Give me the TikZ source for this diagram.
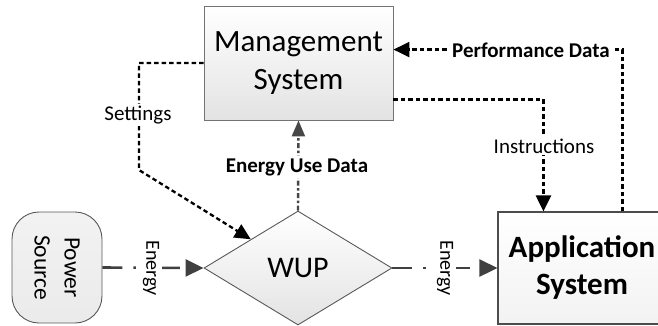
\documentclass[tikz,border=0pt]{standalone}
\usepackage{fontspec}
\setmainfont{Carlito}
\usetikzlibrary{shapes.geometric,arrows.meta,calc}

\tikzset{
  blockbox/.style={draw=black!55, line width=0.9pt, top color=white, bottom color=black!11,
    align=center, inner sep=0pt},
  lbl/.style={fill=white, inner sep=2pt, font=\fontsize{21}{25}\selectfont},
  blbl/.style={lbl, font=\fontsize{21}{25}\selectfont\bfseries},
  ctrl/.style={line width=2.3pt, dash pattern=on 4.5pt off 3pt,
    -{Triangle[length=16pt,width=15pt]}},
  energyflow/.style={draw=black!75, line width=2.6pt,
    dash pattern=on 20pt off 11pt on 2.5pt off 10.5pt on 2.5pt off 11pt,
    -{Triangle[length=18pt,width=17pt,fill=black!75]}},
  usedata/.style={draw=black!72, line width=2.4pt,
    dash pattern=on 5pt off 2.5pt on 2.5pt off 2.5pt,
    -{Triangle[length=16pt,width=13pt,fill=black!72]}},
}

\begin{document}
\begin{tikzpicture}[x=1pt,y=-1pt]
\useasboundingbox (0,0) rectangle (658,325);
\clip (0,0) rectangle (658,325);

% blocks
\node[blockbox, minimum width=189pt, minimum height=114pt,
      font=\fontsize{31}{38}\selectfont] (mgmt) at (298.5,63) {Management\\System};
\node[blockbox, shape=diamond, minimum width=188pt, minimum height=114pt,
      draw=black!65, font=\fontsize{30}{36}\selectfont] (wup) at (298,268) {WUP};
\node[blockbox, rounded corners=27pt, minimum width=90pt, minimum height=111pt,
      top color=black!5, bottom color=black!8, draw=black!65,
      font=\fontsize{23.5}{30}\selectfont] (src) at (57,267.5) {};
\node[rotate=-90, align=center, font=\fontsize{23.5}{30}\selectfont] (srctext)
      at (src.center) {Power\\Source};
\node[blockbox, minimum width=168pt, minimum height=112pt, draw=black!70,
      top color=white, bottom color=black!5, line width=1.1pt,
      font=\fontsize{31}{37}\selectfont\bfseries] (app) at (582,268) {Application\\System};

% turning points of the control and data lines
\coordinate (setA) at (139,63);
\coordinate (setB) at (139,170);
\coordinate (setEnd) at ($(wup.west)!0.5!(wup.north)$);
\coordinate (insStart) at ($(mgmt.south east)+(0,-21)$);
\coordinate (insEnd) at ($(app.north west)+(46,0)$);
\coordinate (insA) at (insStart -| insEnd);
\coordinate (perfStart) at ($(app.north west)+(125,0)$);
\coordinate (perfEnd) at ($(mgmt.north east)+(0,44)$);
\coordinate (perfA) at (perfStart |- perfEnd);

% connectors
\draw[ctrl] (mgmt.west |- setA) -- (setA) -- (setB) -- (setEnd);
\draw[ctrl] (insStart) -- (insA) -- (insEnd);
\draw[ctrl] (perfStart) -- (perfA) -- (perfEnd);
\draw[usedata] (wup.north) -- (mgmt.south);
\draw[energyflow] (src.east) -- (wup.west);
\draw[energyflow] (wup.east) -- (app.west);

% connector labels
\node[lbl] (setlbl) at (138,115) {Settings};
\node[lbl] (inslbl) at (544,146) {Instructions};
\node[blbl] (perflbl) at (531,50) {Performance Data};
\node[blbl] (uselbl) at (297,167) {Energy Use Data};
\node[lbl, rotate=-90, inner sep=3pt, font=\fontsize{20}{24}\selectfont] (en1) at (151,268) {Energy};
\node[lbl, rotate=-90, inner sep=3pt, font=\fontsize{20}{24}\selectfont] (en2) at (445,268) {Energy};
\end{tikzpicture}
\end{document}
